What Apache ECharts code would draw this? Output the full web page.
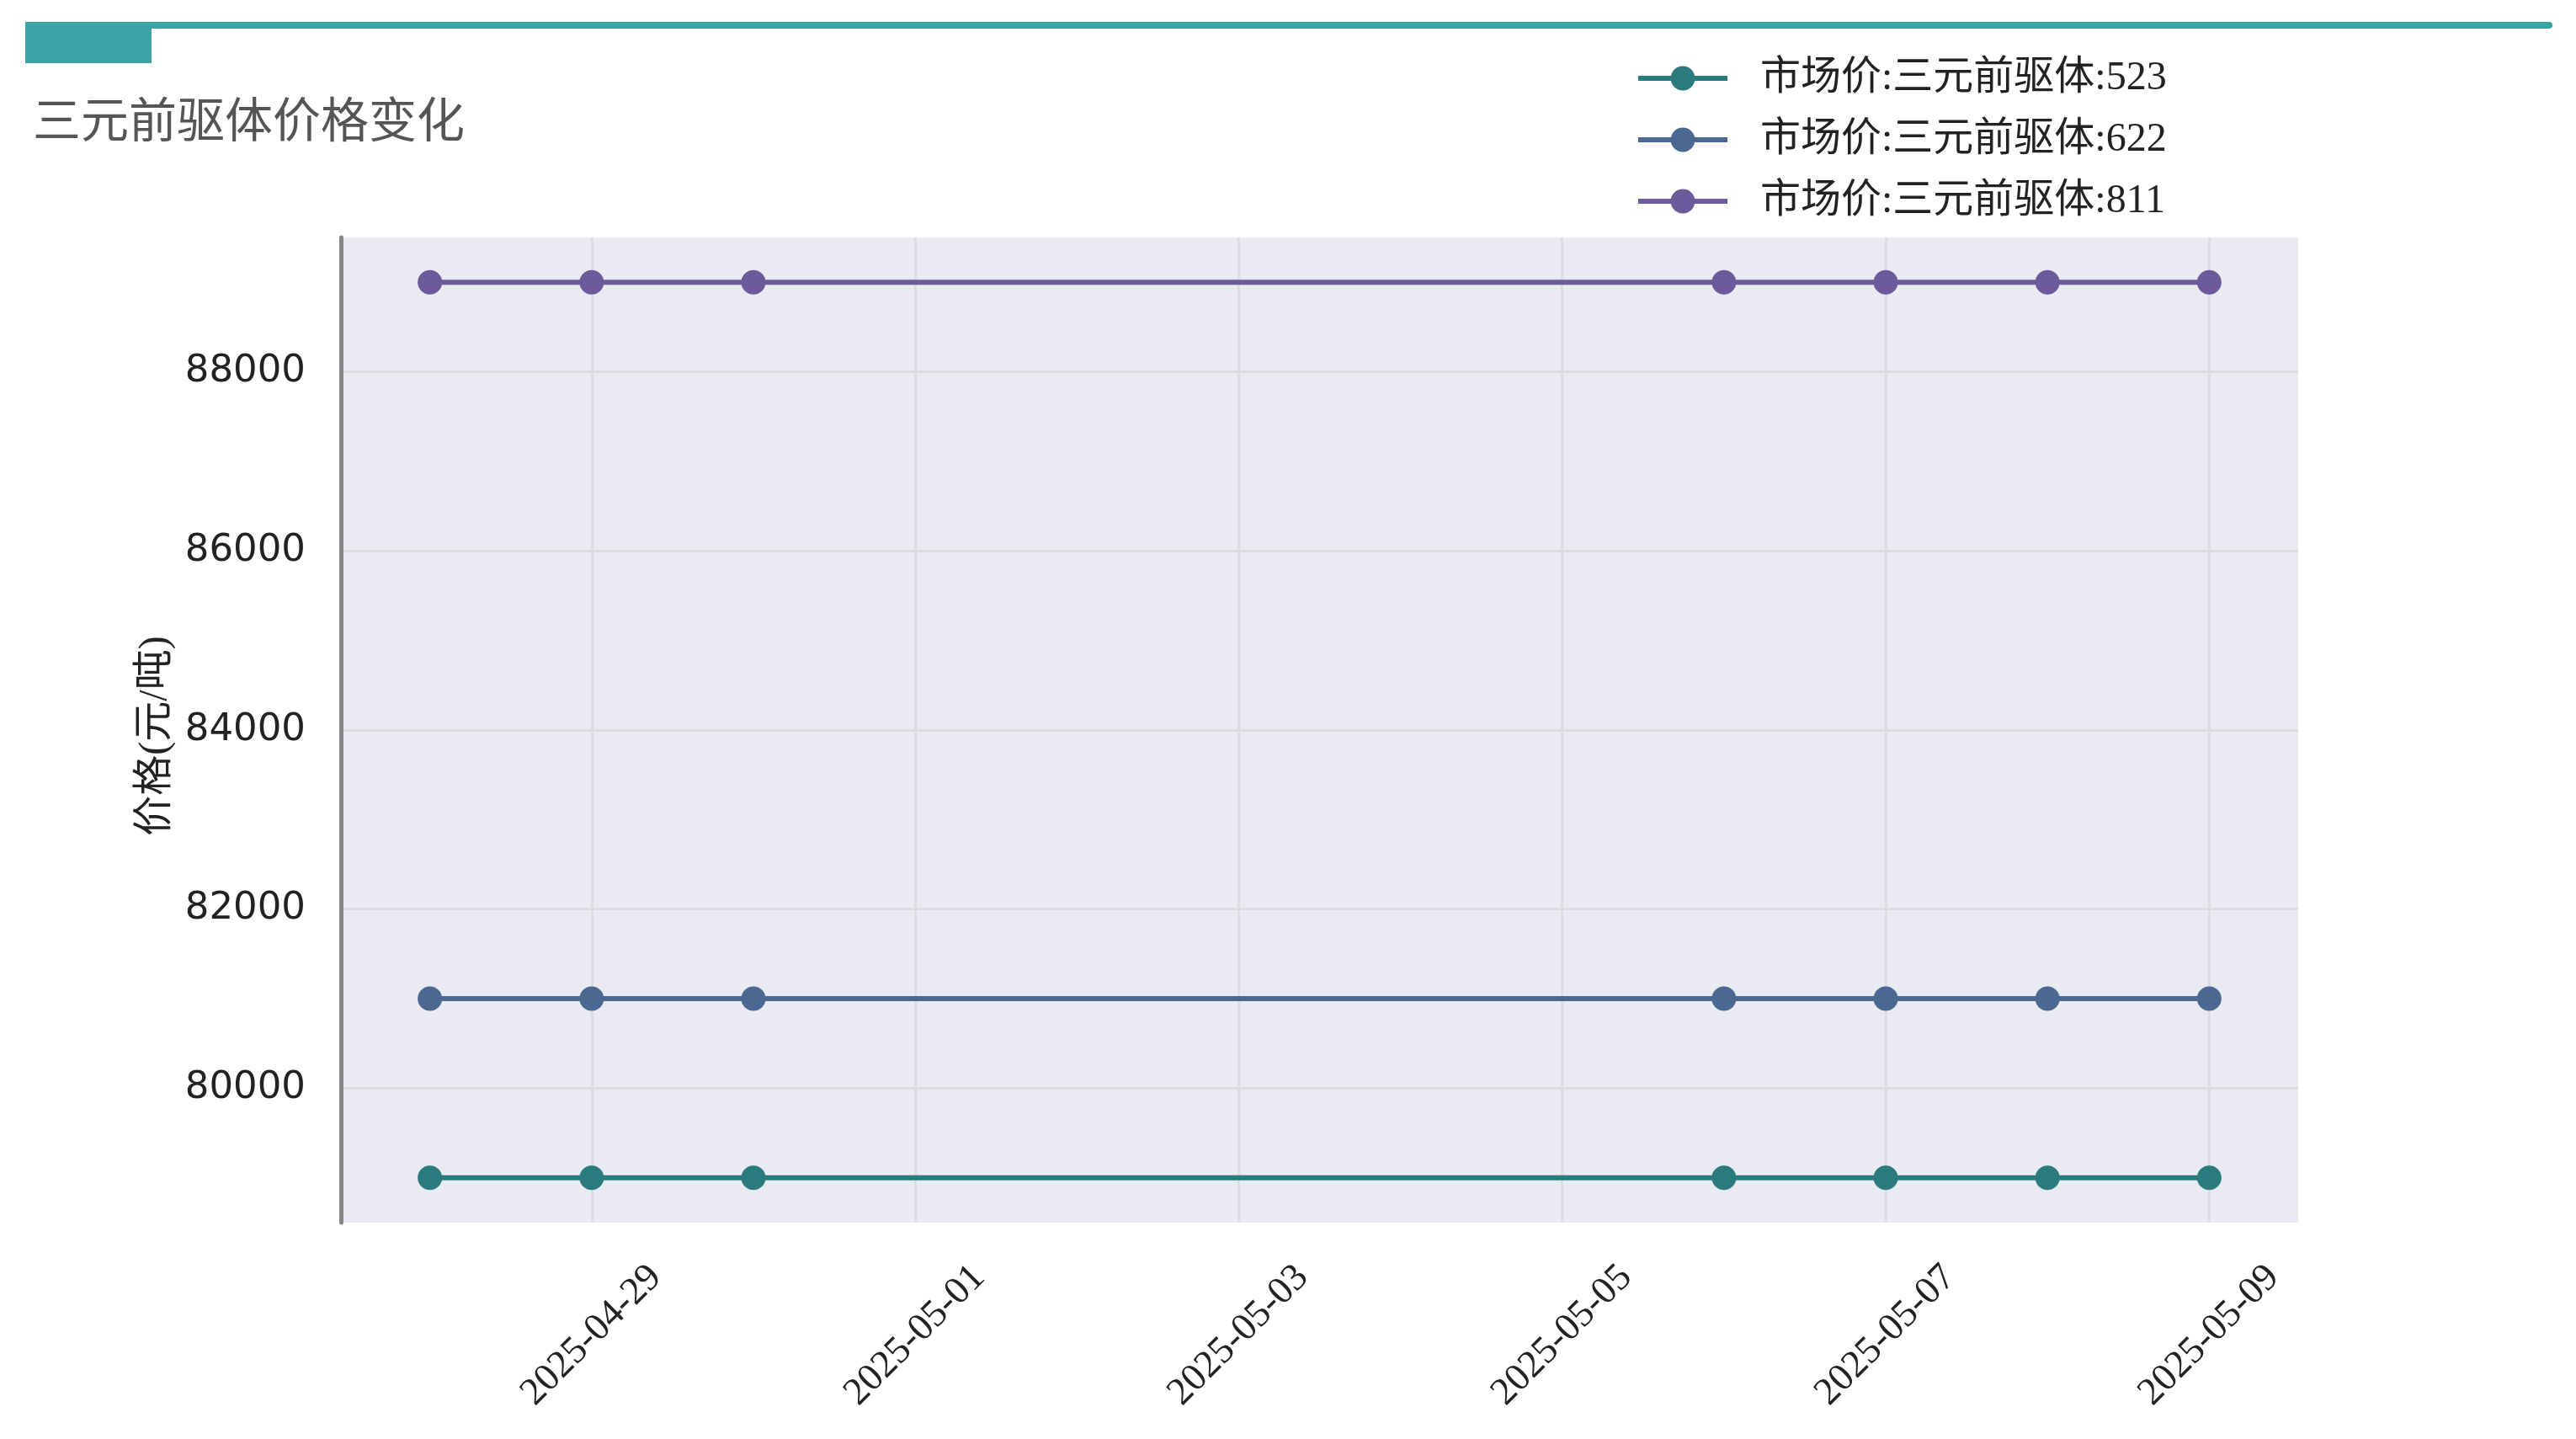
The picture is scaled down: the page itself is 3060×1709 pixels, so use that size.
<!DOCTYPE html>
<html>
<head>
<meta charset="utf-8">
<title>三元前驱体价格变化</title>
<script src="https://cdn.jsdelivr.net/npm/echarts@6/dist/echarts.min.js"></script>
<style>
  html, body { margin: 0; padding: 0; background: #fff; }
  #chart { width: 3060px; height: 1709px; }
</style>
</head>
<body>
<div id="chart"></div>
<script>
// 数据
const dates = ['2025-04-28', '2025-04-29', '2025-04-30', '2025-05-06', '2025-05-07', '2025-05-08', '2025-05-09'];
const price523 = [79000, 79000, 79000, 79000, 79000, 79000, 79000];
const price622 = [81000, 81000, 81000, 81000, 81000, 81000, 81000];
const price811 = [89000, 89000, 89000, 89000, 89000, 89000, 89000];
const seriesNames = ['市场价:三元前驱体:523', '市场价:三元前驱体:622', '市场价:三元前驱体:811'];
const xTickLabels = ['2025-04-29', '2025-05-01', '2025-05-03', '2025-05-05', '2025-05-07', '2025-05-09'];
const yTickLabels = [80000, 82000, 84000, 86000, 88000];

const colors = ['#2b7a7e', '#4a6892', '#6b5b9b'];
const serifFont = "'Liberation Serif', 'Noto Sans CJK SC', serif";

function toTime(s) {
  const p = s.split('-');
  return new Date(+p[0], +p[1] - 1, +p[2]).getTime();
}

const tFirst = toTime(dates[0]);
const tLast = toTime(dates[dates.length - 1]);
const xPad = (tLast - tFirst) * 0.05;

function pairs(values) {
  return dates.map((d, i) => [toTime(d), values[i]]);
}

const chart = echarts.init(document.getElementById('chart'));

const seriesValues = [price523, price622, price811];
const series = seriesValues.map((vals, i) => ({
  name: seriesNames[i],
  type: 'line',
  data: pairs(vals),
  symbol: 'circle',
  symbolSize: 29,
  showSymbol: true,
  lineStyle: { width: 6, color: colors[i] },
  itemStyle: { color: colors[i] },
  emphasis: { disabled: true }
}));

chart.setOption({
  animation: false,
  backgroundColor: '#ffffff',
  graphic: [
    {
      type: 'rect',
      shape: { x: 30, y: 26, width: 3002, height: 8, r: 4 },
      style: { fill: '#3ba3a5' }
    },
    {
      type: 'rect',
      shape: { x: 30, y: 26, width: 150, height: 49 },
      style: { fill: '#3ba3a5' }
    }
  ],
  title: {
    text: '三元前驱体价格变化',
    left: 34,
    top: 108,
    textStyle: {
      fontFamily: "'Noto Sans CJK SC', sans-serif",
      fontSize: 57,
      fontWeight: 'normal',
      color: '#555555'
    }
  },
  legend: {
    orient: 'vertical',
    left: 1938,
    top: 64,
    itemWidth: 106,
    itemHeight: 36,
    itemGap: 25,
    data: seriesNames,
    lineStyle: { width: 6 },
    textStyle: {
      fontFamily: serifFont,
      fontSize: 48,
      lineHeight: 48,
      color: '#222222',
      padding: [0, 0, 0, 34]
    }
  },
  grid: {
    left: 405,
    top: 282,
    right: 330,
    bottom: 257,
    show: true,
    backgroundColor: '#eaeaf2',
    borderWidth: 0
  },
  xAxis: {
    type: 'time',
    min: tFirst - xPad,
    max: tLast + xPad,
    axisLine: { show: false },
    axisTick: { show: false, customValues: xTickLabels.map(toTime) },
    splitLine: { show: true, lineStyle: { color: '#dcdce2', width: 3 } },
    axisLabel: {
      customValues: xTickLabels.map(toTime),
      formatter: '{yyyy}-{MM}-{dd}',
      rotate: 45,
      align: 'center',
      verticalAlign: 'middle',
      margin: 134,
      fontFamily: serifFont,
      fontSize: 46,
      color: '#222222',
      hideOverlap: false
    }
  },
  yAxis: {
    type: 'value',
    min: 78500,
    max: 89500,
    name: '价格(元/吨)',
    nameLocation: 'middle',
    nameRotate: 90,
    nameGap: 196,
    nameTextStyle: {
      fontFamily: serifFont,
      fontSize: 48,
      color: '#222222',
      padding: [0, 14, 0, 0]
    },
    axisLine: { show: true, lineStyle: { color: '#888888', width: 5 } },
    axisTick: { show: false, customValues: yTickLabels },
    splitLine: { show: true, lineStyle: { color: '#dcdce2', width: 3 } },
    axisLabel: {
      customValues: yTickLabels,
      formatter: v => String(v),
      margin: 42,
      fontFamily: "'DejaVu Sans', sans-serif",
      fontSize: 45,
      color: '#222222'
    }
  },
  series: series
});
</script>
</body>
</html>
